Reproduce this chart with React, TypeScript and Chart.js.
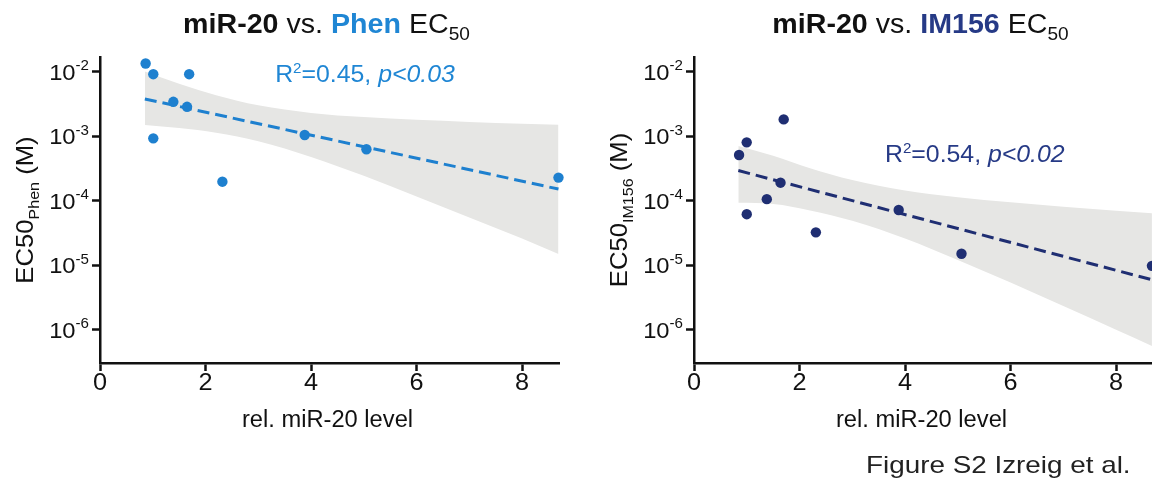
import React, { useEffect, useRef } from 'react';
import { Chart, registerables } from 'chart.js';

Chart.register(...registerables);

// ---------- shared axes ----------
const X_TICKS = [0, 2, 4, 6, 8];
const Y_TICKS = [1e-6, 1e-5, 1e-4, 1e-3, 1e-2];
const X_MIN = 0;
const X_MAX = 8.7;
const Y_MIN = 3.05e-7;
const Y_MAX = 0.017;

// ---------- Phen panel ----------
const PHEN_X = [0.865, 1.01, 1.69, 1.39, 1.65, 1.01, 2.32, 3.88, 5.05, 8.69];
const PHEN_Y = [0.0135, 0.0092, 0.0092, 0.00343, 0.00287, 0.00093, 0.000198, 0.00105, 0.00063, 0.000229];
const PHEN_FIT_X = [0.85, 8.69];
const PHEN_FIT_Y = [0.0038, 0.000152];
const PHEN_BAND_X = [0.85, 1.5, 2.2, 3, 4, 5, 6, 7, 8, 8.69];
const PHEN_BAND_HI = [0.0101, 0.00655, 0.00434, 0.00303, 0.00231, 0.00199, 0.0018, 0.00167, 0.00157, 0.00151];
const PHEN_BAND_LO = [0.0015, 0.00135, 0.00114, 0.00084, 0.00048, 0.000244, 0.000117, 5.5e-5, 2.6e-5, 1.5e-5];

// ---------- IM156 panel ----------
const IM_X = [0.854, 0.999, 1.7, 1.64, 1.38, 1.0, 2.31, 3.88, 5.07, 8.68];
const IM_Y = [0.000514, 0.000807, 0.00183, 0.000191, 0.000106, 6.2e-5, 3.24e-5, 7.2e-5, 1.51e-5, 9.8e-6];
const IM_FIT_X = [0.84, 8.68];
const IM_FIT_Y = [0.000295, 5.96e-6];
const IM_BAND_X = [0.84, 1.5, 2.2, 3, 4, 5, 6, 7, 8, 8.68];
const IM_BAND_HI = [7.1e-4, 5.0e-4, 3.2e-4, 2.1e-4, 1.45e-4, 1.14e-4, 9.5e-5, 8.1e-5, 7.0e-5, 6.4e-5];
const IM_BAND_LO = [9.3e-5, 8.95e-5, 7.1e-5, 4.9e-5, 2.6e-5, 1.21e-5, 5.4e-6, 2.33e-6, 1.0e-6, 5.6e-7];

const FONT = '"Liberation Sans", Arial, Helvetica, sans-serif';
const BAND = '#e6e6e4';

type Seg = { t: string; size: number; bold?: boolean; italic?: boolean; color?: string; dy?: number };

function fontOf(s: Seg) {
  return `${s.italic ? 'italic ' : ''}${s.bold ? 'bold ' : ''}${s.size}px ${FONT}`;
}

function drawRich(ctx: CanvasRenderingContext2D, segs: Seg[], x: number, y: number, align: string, sx = 1, rot = 0) {
  ctx.save();
  ctx.translate(x, y);
  if (rot) ctx.rotate(rot);
  ctx.scale(sx, 1);
  ctx.textBaseline = 'alphabetic';
  ctx.textAlign = 'left';
  let w = 0;
  for (const s of segs) {
    ctx.font = fontOf(s);
    w += ctx.measureText(s.t).width;
  }
  let cx = align === 'center' ? -w / 2 : align === 'right' ? -w : 0;
  for (const s of segs) {
    ctx.font = fontOf(s);
    ctx.fillStyle = s.color || '#111';
    ctx.fillText(s.t, cx, s.dy || 0);
    cx += ctx.measureText(s.t).width;
  }
  ctx.restore();
}

interface Spec {
  xs: number[]; ys: number[];
  fitX: number[]; fitY: number[];
  bandX: number[]; bandHi: number[]; bandLo: number[];
  color: string; textColor: string; drug: string;
  r2: string; p: string; note: { x: number; y: number };
  yAxisWidth: number; padRight: number; footerX?: number;
}

const PHEN_SPEC: Spec = {
  xs: PHEN_X, ys: PHEN_Y, fitX: PHEN_FIT_X, fitY: PHEN_FIT_Y,
  bandX: PHEN_BAND_X, bandHi: PHEN_BAND_HI, bandLo: PHEN_BAND_LO,
  color: '#1e80cf', textColor: '#1f86d4', drug: 'Phen',
  r2: '0.45', p: '0.03', note: { x: 3.32, y: 0.0069 },
  yAxisWidth: 100, padRight: 17,
};

const IM_SPEC: Spec = {
  xs: IM_X, ys: IM_Y, fitX: IM_FIT_X, fitY: IM_FIT_Y,
  bandX: IM_BAND_X, bandHi: IM_BAND_HI, bandLo: IM_BAND_LO,
  color: '#1f2e72', textColor: '#263a86', drug: 'IM156',
  r2: '0.54', p: '0.02', note: { x: 3.62, y: 4.05e-4 },
  yAxisWidth: 118, padRight: 23, footerX: 290,
};

function textPlugin(spec: Spec) {
  return {
    id: 'figText',
    afterDraw(chart: any) {
      const ctx: CanvasRenderingContext2D = chart.ctx;
      const ca = chart.chartArea;
      const xs = chart.scales.x;
      const ys = chart.scales.y;
      const cx = (ca.left + ca.right) / 2;
      // title
      drawRich(ctx, [
        { t: 'miR-20', size: 27, bold: true },
        { t: ' vs. ', size: 27 },
        { t: spec.drug, size: 27, bold: true, color: spec.textColor },
        { t: ' EC', size: 27 },
        { t: '50', size: 18, dy: 7 },
      ], cx - 3, 33, 'center', 1.06);
      // y tick labels
      for (const v of Y_TICKS) {
        const py = ys.getPixelForValue(v);
        const e = Math.round(Math.log10(v));
        drawRich(ctx, [{ t: '10', size: 22 }, { t: String(e), size: 14, dy: -9.5 }], ca.left - 11, py + 8, 'right', 1.08);
      }
      // x tick labels
      for (const v of X_TICKS) {
        drawRich(ctx, [{ t: String(v), size: 23 }], xs.getPixelForValue(v), ca.bottom + 27, 'center', 1.1);
      }
      // axis titles
      drawRich(ctx, [{ t: 'rel. miR-20 level', size: 23 }], cx - 2, ca.bottom + 64, 'center', 1.03);
      drawRich(ctx, [
        { t: 'EC50', size: 24 },
        { t: spec.drug, size: 15, dy: 6 },
        { t: ' (M)', size: 24 },
      ], ca.left - 67, (ca.top + ca.bottom) / 2, 'center', 1.07, -Math.PI / 2);
      // annotation
      const c = spec.textColor;
      drawRich(ctx, [
        { t: 'R', size: 23, color: c },
        { t: '2', size: 14, dy: -9, color: c },
        { t: '=' + spec.r2 + ', ', size: 23, color: c },
        { t: 'p<' + spec.p, size: 23, italic: true, color: c },
      ], xs.getPixelForValue(spec.note.x), ys.getPixelForValue(spec.note.y), 'left', 1.08);
      if (spec.footerX !== undefined) {
        drawRich(ctx, [{ t: 'Figure S2 Izreig et al.', size: 24, color: '#222' }], spec.footerX, 473, 'left', 1.16);
      }
    },
  };
}

function buildConfig(spec: Spec): any {
  const pts = spec.xs.map((x, i) => ({ x, y: spec.ys[i] }));
  const fit = spec.fitX.map((x, i) => ({ x, y: spec.fitY[i] }));
  const hi = spec.bandX.map((x, i) => ({ x, y: spec.bandHi[i] }));
  const lo = spec.bandX.map((x, i) => ({ x, y: spec.bandLo[i] }));
  const axisCommon = {
    grid: {
      display: true, drawOnChartArea: false, drawTicks: true,
      tickLength: 8, tickWidth: 2.5, tickColor: '#111', color: '#111',
    },
    border: { display: true, color: '#111', width: 2.5 },
    ticks: { display: false },
    bounds: 'data',
  };
  return {
    type: 'line',
    data: {
      datasets: [
        {
          data: pts, showLine: false, pointRadius: 5.2, pointHoverRadius: 5.2,
          pointBackgroundColor: spec.color, pointBorderWidth: 0, borderColor: spec.color, clip: false,
        },
        {
          data: fit, borderColor: spec.color, borderWidth: 3, borderDash: [12, 6],
          pointRadius: 0, fill: false,
        },
        {
          data: hi, borderWidth: 0, borderColor: 'rgba(0,0,0,0)', backgroundColor: BAND,
          pointRadius: 0, fill: '+1', cubicInterpolationMode: 'monotone',
        },
        {
          data: lo, borderWidth: 0, borderColor: 'rgba(0,0,0,0)', backgroundColor: BAND,
          pointRadius: 0, fill: false, cubicInterpolationMode: 'monotone',
        },
      ],
    },
    options: {
      animation: false,
      responsive: false,
      maintainAspectRatio: false,
      devicePixelRatio: 1,
      events: [],
      layout: { padding: { left: 0, right: spec.padRight, top: 57, bottom: 83 } },
      plugins: { legend: { display: false }, tooltip: { enabled: false } },
      scales: {
        x: {
          ...axisCommon,
          type: 'linear', min: X_MIN, max: X_MAX,
          afterBuildTicks: (s: any) => { s.ticks = X_TICKS.map((v) => ({ value: v })); },
          afterFit: (s: any) => { s.height = 40; },
        },
        y: {
          ...axisCommon,
          type: 'logarithmic', min: Y_MIN, max: Y_MAX,
          afterBuildTicks: (s: any) => { s.ticks = Y_TICKS.map((v) => ({ value: v })); },
          afterFit: (s: any) => { s.width = spec.yAxisWidth; },
        },
      },
    },
    plugins: [textPlugin(spec)],
  };
}

function Panel({ spec, left, width }: { spec: Spec; left: number; width: number }) {
  const ref = useRef<HTMLCanvasElement>(null);
  useEffect(() => {
    const chart = new Chart(ref.current as HTMLCanvasElement, buildConfig(spec));
    return () => chart.destroy();
  }, [spec]);
  return (
    <canvas
      ref={ref}
      width={width}
      height={486}
      style={{ position: 'absolute', left, top: 0, width, height: 486 }}
    />
  );
}

export default function App() {
  return (
    <div
      style={{
        position: 'fixed', left: 0, top: 0, width: 1152, height: 486,
        overflow: 'hidden', background: '#fff',
      }}
    >
      <Panel spec={PHEN_SPEC} left={0} width={576} />
      <Panel spec={IM_SPEC} left={576} width={600} />
    </div>
  );
}
